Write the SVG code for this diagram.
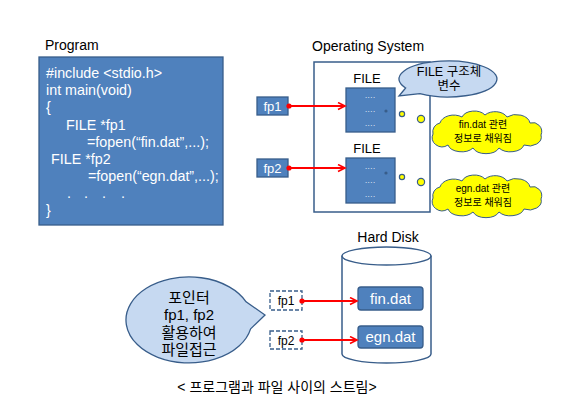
<svg xmlns="http://www.w3.org/2000/svg" width="567" height="418" viewBox="0 0 567 418">
<style>
text{font-family:"Liberation Sans","Noto Sans CJK KR",sans-serif;}
.blk{fill:#000;}
.wht{fill:#fff;}
.blue{fill:#4F81BD;stroke:#385D8A;stroke-width:1.3;}
.line{fill:#fff;stroke:#385D8A;stroke-width:1.5;}
.dash{fill:#fff;stroke:#385D8A;stroke-width:1.3;stroke-dasharray:4 2;}
.bub{fill:#C6D9F1;stroke:#385D8A;stroke-width:1.3;}
.cloud{fill:#FFFF00;stroke:#385D8A;stroke-width:1;}
.ydot{fill:#FFFF00;stroke:#385D8A;stroke-width:1.2;}
.arr{stroke:#FF0000;stroke-width:2;fill:none;marker-start:url(#dot);marker-end:url(#head);}
.code{font-size:14.3px;fill:#fff;}
.mid{text-anchor:middle;}
</style>
<defs>
<marker id="head" markerWidth="10" markerHeight="10" refX="8" refY="4" orient="auto" markerUnits="userSpaceOnUse">
<path d="M1,0.5 L8,4 L1,7.5" fill="none" stroke="#FF0000" stroke-width="1.6"/>
</marker>
<marker id="dot" markerWidth="8" markerHeight="8" refX="3" refY="3" orient="auto" markerUnits="userSpaceOnUse">
<circle cx="3" cy="3" r="2.6" fill="#FF0000"/>
</marker>
<path id="cloudShape" d="M -52,3 A 9 9 0 0 1 -45,-8 A 14 10 0 0 1 -23,-14 A 13 9 0 0 1 0,-16 A 13 9 0 0 1 22,-14 A 14 10 0 0 1 45,-8 A 9 9 0 0 1 56,4 A 12 9 0 0 1 39,14 A 14 9 0 0 1 14,17 A 14 9 0 0 1 -12,17 A 14 9 0 0 1 -37,14 A 10 9 0 0 1 -52,3 Z"/>
</defs>

<g id="program">
<text x="45" y="50" class="blk" font-size="14">Program</text>
<rect x="39" y="57" width="184" height="168" class="blue"/>
<text class="code" x="46" y="78">#include &lt;stdio.h&gt;</text>
<text class="code" x="46" y="95">int main(void)</text>
<text class="code" x="46" y="112">{</text>
<text class="code" x="66" y="130">FILE *fp1</text>
<text class="code" x="87" y="147">=fopen(“fin.dat”,...);</text>
<text class="code" x="51" y="164">FILE *fp2</text>
<text class="code" x="88" y="181">=fopen(“egn.dat”,...);</text>
<text class="code" x="67" y="198">.</text>
<text class="code" x="84" y="198">.</text>
<text class="code" x="102" y="198">.</text>
<text class="code" x="121" y="198">.</text>
<text class="code" x="46" y="215">}</text>
</g>

<g id="os">
<text x="312" y="51" class="blk" font-size="14">Operating System</text>
<rect x="314" y="62" width="116" height="150" class="line"/>
</g>

<g id="file1">
<text x="367" y="83" class="blk mid" font-size="13">FILE</text>
<rect x="346" y="88" width="49" height="44" class="blue"/>
<text x="370" y="100" class="wht mid" font-size="8">····</text>
<text x="370" y="114" class="wht mid" font-size="8">····</text>
<text x="370" y="128" class="wht mid" font-size="8">····</text>
<circle cx="386" cy="111" r="1.6" fill="#385D8A"/>
</g>

<g id="file2">
<text x="367" y="153" class="blk mid" font-size="13">FILE</text>
<rect x="346" y="158" width="49" height="45" class="blue"/>
<text x="370" y="171" class="wht mid" font-size="8">····</text>
<text x="370" y="185" class="wht mid" font-size="8">····</text>
<text x="370" y="199" class="wht mid" font-size="8">····</text>
<circle cx="386" cy="173" r="1.6" fill="#385D8A"/>
</g>

<g id="fp1-top">
<rect x="257" y="97" width="31" height="18" class="blue"/>
<text x="272.5" y="111" class="wht mid" font-size="13">fp1</text>
</g>
<g id="fp2-top">
<rect x="257" y="159" width="31" height="18" class="blue"/>
<text x="272.5" y="173" class="wht mid" font-size="13">fp2</text>
</g>

<g id="callout-file">
<path d="M 405.6,88 L 399,96 L 419.9,93.7 A 49 18 0 1 0 405.6,88 Z" class="bub"/>
<text x="449" y="76" class="blk mid" font-size="12.5">FILE 구조체</text>
<text x="449" y="90" class="blk mid" font-size="12.5">변수</text>
</g>

<g id="cloud1">
<circle cx="402" cy="114" r="2.6" class="ydot"/>
<circle cx="421" cy="119" r="3.6" class="ydot"/>
<use href="#cloudShape" transform="translate(485,131)" class="cloud"/>
<text x="483" y="128" class="blk mid" font-size="10">fin.dat 관련</text>
<text x="483" y="142" class="blk mid" font-size="10">정보로 채워짐</text>
</g>

<g id="cloud2">
<circle cx="402" cy="177" r="2.6" class="ydot"/>
<circle cx="421" cy="182" r="3.6" class="ydot"/>
<use href="#cloudShape" transform="translate(485,195)" class="cloud"/>
<text x="483" y="192" class="blk mid" font-size="10">egn.dat 관련</text>
<text x="483" y="206" class="blk mid" font-size="10">정보로 채워짐</text>
</g>

<g id="harddisk">
<text x="388" y="242" class="blk mid" font-size="14">Hard Disk</text>
<path d="M 342,256 L 342,354 A 44.5 9 0 0 0 431,354 L 431,256" class="line"/>
<ellipse cx="386.5" cy="256" rx="44.5" ry="9" class="line"/>
</g>

<g id="fin-dat">
<rect x="358" y="287" width="65" height="23" rx="3" class="blue"/>
<text x="390.5" y="304" class="wht mid" font-size="15">fin.dat</text>
</g>
<g id="egn-dat">
<rect x="358" y="326" width="65" height="22" rx="3" class="blue"/>
<text x="390.5" y="342" class="wht mid" font-size="15">egn.dat</text>
</g>

<g id="fp1-bottom">
<rect x="270" y="291" width="32" height="19" class="dash"/>
<text x="286" y="305" class="blk mid" font-size="12">fp1</text>
</g>
<g id="fp2-bottom">
<rect x="270" y="331" width="32" height="18" class="dash"/>
<text x="286" y="345" class="blk mid" font-size="12">fp2</text>
</g>

<g id="bubble-pointer">
<path d="M 250.6,328.9 L 265,315 L 246.1,301.8 A 63 43 0 1 0 250.6,328.9 Z" class="bub"/>
<text x="189" y="303" class="blk mid" font-size="15">포인터</text>
<text x="189" y="320" class="blk mid" font-size="15">fp1, fp2</text>
<text x="189" y="338" class="blk mid" font-size="15">활용하여</text>
<text x="189" y="355" class="blk mid" font-size="15">파일접근</text>
</g>

<g id="connectors">
<line x1="289" y1="106" x2="345" y2="106" class="arr"/>
<line x1="289" y1="168" x2="345" y2="168" class="arr"/>
<line x1="302" y1="301" x2="357" y2="301" class="arr"/>
<line x1="302" y1="340" x2="357" y2="340" class="arr"/>
</g>

<text x="277" y="392" class="blk mid" font-size="14">&lt; 프로그램과 파일 사이의 스트림&gt;</text>
</svg>
